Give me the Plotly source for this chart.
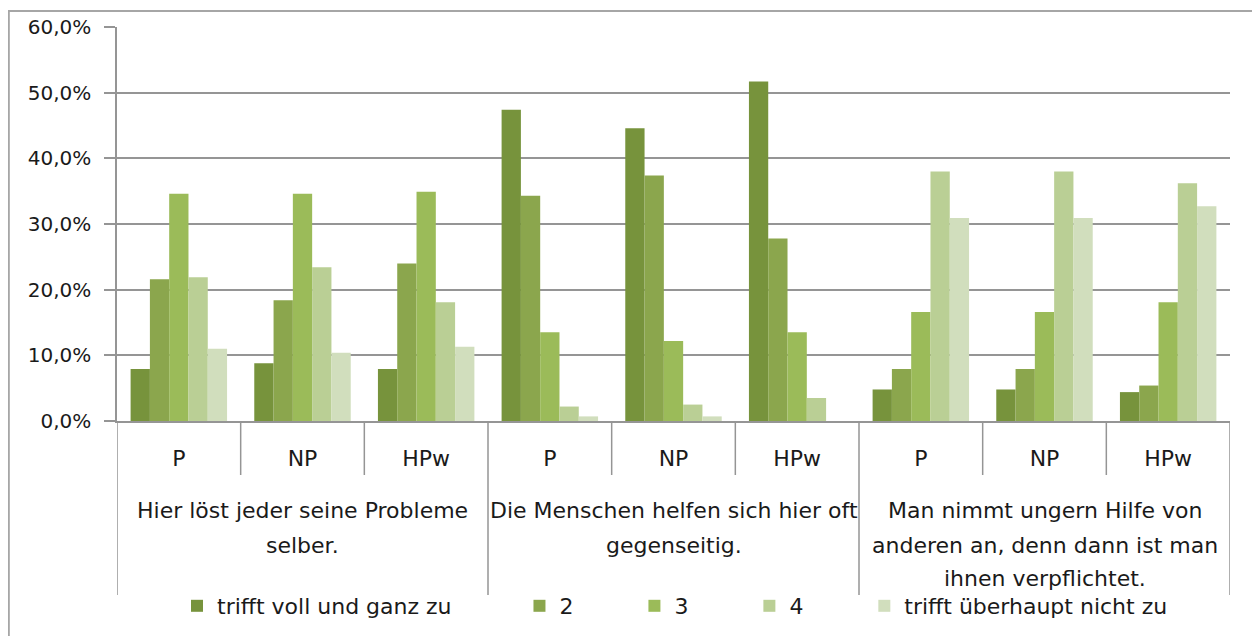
import plotly.graph_objects as go

# ---- data ----
subgroups = ["P", "NP", "HPw"]
group_lines = [
    ["Hier löst jeder seine Probleme", "selber."],
    ["Die Menschen helfen sich hier oft", "gegenseitig."],
    ["Man nimmt ungern Hilfe von", "anderen an, denn dann ist man", "ihnen verpflichtet."],
]
series_names = ["trifft voll und ganz zu", "2", "3", "4", "trifft überhaupt nicht zu"]
s1 = [7.9, 8.8, 7.9, 47.4, 44.6, 51.7, 4.8, 4.8, 4.4]
s2 = [21.6, 18.4, 24.0, 34.3, 37.4, 27.8, 7.9, 7.9, 5.4]
s3 = [34.6, 34.6, 34.9, 13.5, 12.2, 13.5, 16.6, 16.6, 18.1]
s4 = [21.9, 23.4, 18.1, 2.2, 2.5, 3.5, 38.0, 38.0, 36.2]
s5 = [11.0, 10.4, 11.3, 0.7, 0.7, 0.0, 30.9, 30.9, 32.7]
y_ticks = [0, 10, 20, 30, 40, 50, 60]
y_tick_labels = ["0,0%", "10,0%", "20,0%", "30,0%", "40,0%", "50,0%", "60,0%"]

colors = ["#77933C", "#8BA64D", "#9BBB59", "#BACF95", "#D1DEBD"]
series = [s1, s2, s3, s4, s5]
legend_pad = [9, 8, 8, 8, 8]

n_groups = len(group_lines)
n_sub = len(subgroups)
cat_labels = subgroups * n_groups
x_pos = list(range(len(cat_labels)))

FONT = "DejaVu Sans"
TXT = "#1a1a1a"
GRID = "#959595"

fig = go.Figure()
for name, vals, col, pad in zip(series_names, series, colors, legend_pad):
    fig.add_trace(go.Bar(
        x=x_pos, y=vals, name=name + "\u00a0" * pad,
        marker=dict(color=col, line=dict(width=0)),
    ))

# The page body has an 8px margin, so the figure starts at screen (8, 8).
# Plot area on screen: left 117, right 1230, top 27, bottom 421
OFF = 8
H_PLOT = 394.0
W_PLOT = 1113.0
def py(px):
    return (421 - px) / H_PLOT
def px_(sx):
    return (sx - 117) / W_PLOT

shapes = []
# category tick separators (short)
for i in range(len(cat_labels) - 1):
    b = i + 0.5
    if (i + 1) % n_sub == 0:
        continue
    shapes.append(dict(type="line", xref="x", yref="paper", x0=b, x1=b,
                       y0=0, y1=py(475), line=dict(color=GRID, width=1.5)))
# group dividers (long)
for g in range(n_groups + 1):
    b = g * n_sub - 0.5
    shapes.append(dict(type="line", xref="x", yref="paper", x0=b, x1=b,
                       y0=py(421), y1=py(595), line=dict(color=GRID, width=1.5)))
# outer chart frame (cut off at right/bottom like the reference)
shapes.append(dict(type="rect", xref="paper", yref="paper",
                   x0=px_(OFF + 0.8), x1=1.2, y0=py(11), y1=-1.0,
                   line=dict(color="#a6a6a6", width=2), fillcolor="rgba(0,0,0,0)",
                   layer="below"))

annotations = []
line_y = [511, 545, 578]
for g, lines in enumerate(group_lines):
    xc = g * n_sub + (n_sub - 1) / 2
    for k, t in enumerate(lines):
        annotations.append(dict(
            x=xc, xref="x", y=py(line_y[k]), yref="paper", text=t,
            showarrow=False, xanchor="center", yanchor="middle",
            font=dict(family=FONT, size=22, color=TXT)))

fig.update_layout(
    width=1260 - OFF, height=636 - OFF,
    margin=dict(l=117 - OFF, r=30, t=27 - OFF, b=215, autoexpand=False),
    paper_bgcolor="white", plot_bgcolor="white",
    barmode="group", bargap=0.22, bargroupgap=0,
    font=dict(family=FONT, size=20, color=TXT),
    shapes=shapes, annotations=annotations,
    legend=dict(orientation="h", x=px_(177), xanchor="left",
                y=py(606), yanchor="middle", bgcolor="rgba(0,0,0,0)",
                font=dict(family=FONT, size=22, color=TXT),
                itemwidth=30, borderwidth=0, traceorder="normal"),
    xaxis=dict(range=[-0.5, len(cat_labels) - 0.5], tickmode="array",
               tickvals=x_pos, ticktext=cat_labels, ticks="",
               showline=True, linecolor=GRID, linewidth=1.5,
               showgrid=False, zeroline=False, ticklabelstandoff=17,
               automargin=False,
               tickfont=dict(family=FONT, size=22, color=TXT), fixedrange=True),
    yaxis=dict(range=[0, 60], tickmode="array", tickvals=y_ticks,
               ticktext=y_tick_labels,
               ticks="outside", ticklen=11, tickcolor=GRID, tickwidth=1.5,
               showline=True, linecolor=GRID, linewidth=1.5,
               showgrid=True, gridcolor=GRID, gridwidth=1.5, zeroline=False,
               ticklabelstandoff=9, automargin=False,
               tickfont=dict(family=FONT, size=20, color=TXT), fixedrange=True),
    showlegend=True,
)

fig.write_html("out.html")
